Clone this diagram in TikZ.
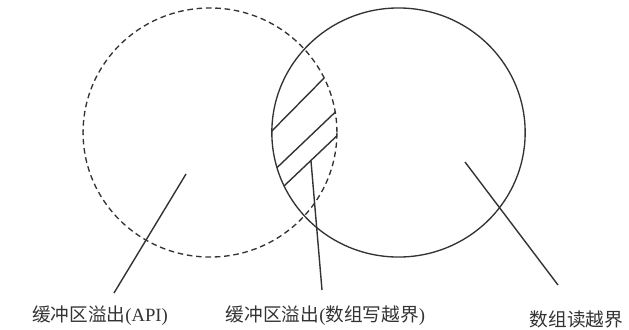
\documentclass[tikz,border=0pt]{standalone}
\usepackage{fontspec}
\setmainfont{Liberation Serif}
\newfontfamily\cjk{Noto Sans CJK SC}
\definecolor{ink}{HTML}{333333}
\begin{document}
\begin{tikzpicture}[x=0.75pt,y=-0.75pt,
  ring/.style={draw=ink,line width=1pt},
  dashring/.style={draw=ink,line width=1pt,dash pattern=on 4.2pt off 2.8pt},
  leader/.style={draw=ink,line width=1.05pt},
  hatchline/.style={draw=ink,line width=1.05pt},
  lbl/.style={text=ink,inner sep=0pt,font=\fontsize{14pt}{16pt}\selectfont}]
\useasboundingbox[fill=white] (0,0) rectangle (629,329);

% circles
\coordinate (cA) at (210,132.5);
\coordinate (cB) at (398.5,132.5);
\draw[dashring] (cA) ellipse [x radius=95.2pt, y radius=93.4pt];
\draw[ring] (cB) ellipse [x radius=95.0pt, y radius=93.4pt];

% hatching in the overlap
\begin{scope}
  \clip (cB) ellipse [x radius=95.0pt, y radius=93.4pt];
  \clip (cA) ellipse [x radius=95.2pt, y radius=93.4pt];
  \coordinate (h1a) at (262,141); \coordinate (h1b) at (333,69);
  \coordinate (h2a) at (268,176.2); \coordinate (h2b) at (344,103.8);
  \coordinate (h3a) at (274,195.5); \coordinate (h3b) at (346,127.2);
  \draw[hatchline] (h1a) -- (h1b);
  \draw[hatchline] (h2a) -- (h2b);
  \draw[hatchline] (h3a) -- (h3b);
\end{scope}

% labels
\node[lbl] (l1) at (100,316) {{\cjk 缓冲区溢出}(API)};
\node[lbl] (l2) at (325.5,316) {{\cjk 缓冲区溢出}({\cjk 数组写越界})};
\node[lbl] (l3) at (576.5,319) {{\cjk 数组读越界}};

% leader lines
\coordinate (p1a) at (114,293); \coordinate (p1b) at (186,174);
\coordinate (p2a) at (322,290); \coordinate (p2b) at (311,161);
\coordinate (p3a) at (558,285); \coordinate (p3b) at (465,162);
\draw[leader] (p1a) -- (p1b);
\draw[leader] (p2a) -- (p2b);
\draw[leader] (p3a) -- (p3b);
\end{tikzpicture}
\end{document}
